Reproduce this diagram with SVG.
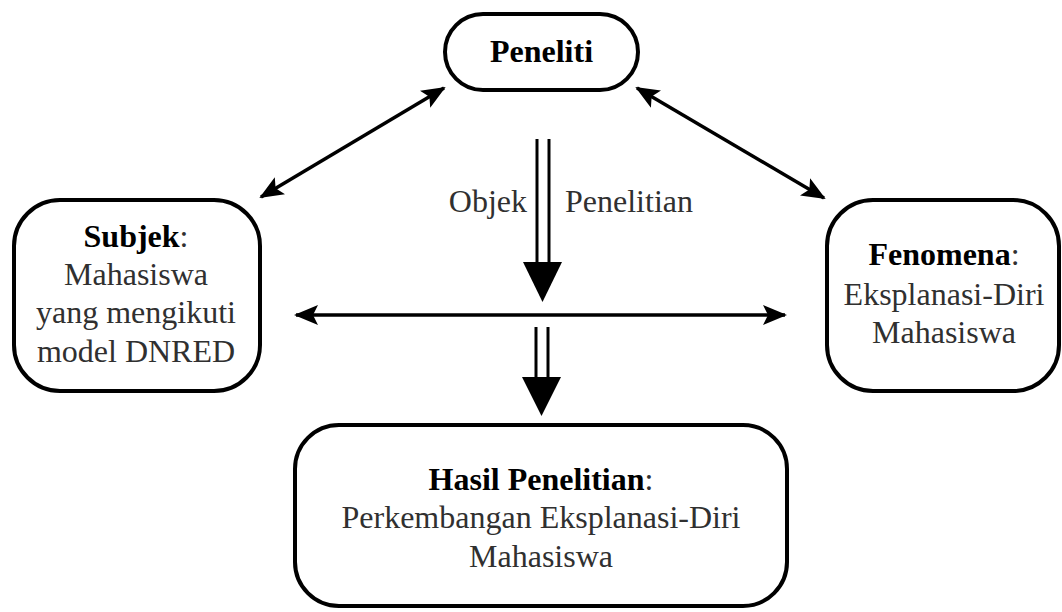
<svg xmlns="http://www.w3.org/2000/svg" width="1062" height="612" viewBox="0 0 1062 612">
  <defs>
    <style>
      .box { fill: #ffffff; stroke: #000000; stroke-width: 4; }
      .lbl { font-family: 'Liberation Serif', 'Times New Roman', serif; font-size: 32px; fill: #303030; text-anchor: middle; }
      .b { font-weight: bold; fill: #000000; }
      .link { fill: none; stroke: #000000; stroke-width: 3.5; }
      .rail { fill: none; stroke: #000000; stroke-width: 3; }
      .head { fill: #000000; stroke: none; }
    </style>
    <marker id="tip" viewBox="0 0 24 20" refX="22" refY="10" markerWidth="24" markerHeight="20" markerUnits="userSpaceOnUse" orient="auto-start-reverse">
      <path d="M0,0 L24,10 L0,20 L5,10 Z" fill="#000000"/>
    </marker>
  </defs>

  <rect width="1062" height="612" fill="#ffffff"/>

  <!-- connectors -->
  <g id="connectors">
    <line class="link" x1="261" y1="197" x2="444" y2="88" marker-start="url(#tip)" marker-end="url(#tip)"/>
    <line class="link" x1="637" y1="88" x2="824" y2="198" marker-start="url(#tip)" marker-end="url(#tip)"/>
    <line class="link" x1="296" y1="315" x2="785" y2="315" marker-start="url(#tip)" marker-end="url(#tip)"/>
    <!-- double-rail arrow: Peneliti to the centre -->
    <line class="rail" x1="537" y1="139" x2="537" y2="264"/>
    <line class="rail" x1="549" y1="139" x2="549" y2="264"/>
    <polygon class="head" points="523,262 562,262 542.5,302"/>
    <!-- double-rail arrow: centre to Hasil Penelitian -->
    <line class="rail" x1="536" y1="327" x2="536" y2="379"/>
    <line class="rail" x1="548" y1="327" x2="548" y2="379"/>
    <polygon class="head" points="522,377 561,377 541.5,416"/>
    <text class="lbl" x="527" y="212" text-anchor="end" style="text-anchor:end">Objek</text>
    <text class="lbl" x="565" y="212" text-anchor="start" style="text-anchor:start">Penelitian</text>
  </g>

  <g id="peneliti">
    <rect class="box" x="445" y="14" width="193" height="76" rx="38" ry="38"/>
    <text class="lbl b" x="541.5" y="62">Peneliti</text>
  </g>

  <g id="subjek">
    <rect class="box" x="14" y="200" width="246" height="191" rx="46" ry="46"/>
    <text class="lbl" x="136" y="247"><tspan class="b">Subjek</tspan>:</text>
    <text class="lbl" x="136" y="285">Mahasiswa</text>
    <text class="lbl" x="136" y="323">yang mengikuti</text>
    <text class="lbl" x="136" y="362">model DNRED</text>
  </g>

  <g id="fenomena">
    <rect class="box" x="827" y="200" width="232" height="191" rx="46" ry="46"/>
    <text class="lbl" x="944" y="265"><tspan class="b">Fenomena</tspan>:</text>
    <text class="lbl" x="944" y="305">Eksplanasi-Diri</text>
    <text class="lbl" x="944" y="343">Mahasiswa</text>
  </g>

  <g id="hasil">
    <rect class="box" x="295" y="425" width="492" height="181" rx="44" ry="44"/>
    <text class="lbl" x="541" y="490"><tspan class="b">Hasil Penelitian</tspan>:</text>
    <text class="lbl" x="541" y="528">Perkembangan Eksplanasi-Diri</text>
    <text class="lbl" x="541" y="567">Mahasiswa</text>
  </g>
</svg>
